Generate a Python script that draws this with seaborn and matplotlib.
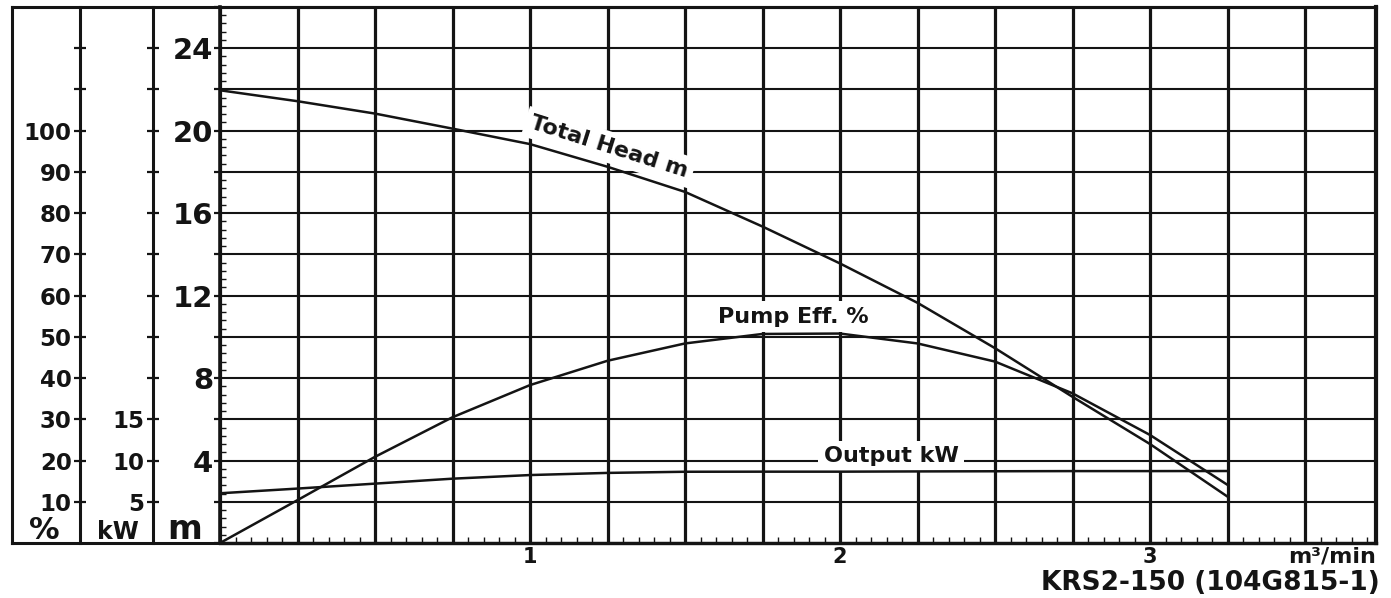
import numpy as np
import pandas as pd
import matplotlib
matplotlib.use("Agg")
import matplotlib.pyplot as plt
from matplotlib.ticker import MultipleLocator, FixedLocator, FuncFormatter
import seaborn as sns

# Performance curves of the KRS2-150 pump versus flow rate (m³/min)
flow = [0.0, 0.25, 0.5, 0.75, 1.0, 1.25, 1.5, 1.75, 2.0, 2.25, 2.5, 2.75, 3.0, 3.25]
total_head_m = [21.96, 21.43, 20.83, 20.10, 19.35, 18.25, 17.03, 15.35, 13.56,
                11.65, 9.45, 7.09, 4.80, 2.25]
pump_eff_pct = [0.0, 10.4, 20.9, 30.5, 38.3, 44.2, 48.4, 50.7, 50.8, 48.4,
                44.0, 36.3, 26.2, 14.1]
output_kw = [6.03, 6.60, 7.20, 7.80, 8.24, 8.50, 8.64, 8.65, 8.65, 8.68,
             8.70, 8.72, 8.72, 8.73]

# Axis labelling
flow_labels = [1, 2, 3]
head_labels = [4, 8, 12, 16, 20, 24]
pct_labels = [10, 20, 30, 40, 50, 60, 70, 80, 90, 100]
kw_labels = [5, 10, 15]

# Secondary scales expressed against the head scale (metres)
PCT_PER_M = 5.0
KW_PER_M = 2.5

sns.set_theme(style="white")
plt.rcParams.update({
    "font.family": ["DejaVu Sans"],
    "font.weight": "bold",
    "axes.axisbelow": True,
})

INK = "#141414"
W, H = 1391, 598


def fx(px):
    return px / W


def fy(py):
    return 1 - py / H


fig = plt.figure(figsize=(W / 100, H / 100), dpi=100)

# Outer frame enclosing the scale columns and the grid
frame = fig.add_axes([fx(12), fy(543), fx(1376) - fx(12), fy(7) - fy(543)])
frame.set_xticks([])
frame.set_yticks([])
frame.set_facecolor("white")
for s in frame.spines.values():
    s.set_visible(True)
    s.set_linewidth(2.2)
    s.set_color(INK)

ax = fig.add_axes([fx(220), fy(543), fx(1376) - fx(220), fy(7) - fy(543)])
ax.patch.set_alpha(0)

df = pd.DataFrame({
    "flow": flow,
    "head": total_head_m,
    "eff": np.asarray(pump_eff_pct) / PCT_PER_M,
    "out": np.asarray(output_kw) / KW_PER_M,
})
for col in ["head", "eff", "out"]:
    sns.lineplot(data=df, x="flow", y=col, ax=ax, color=INK,
                 linewidth=1.8, zorder=3)

ax.set_xlim(0, 3.729)
ax.set_ylim(0, 26)
ax.set_xlabel("")
ax.set_ylabel("")

# Flow axis: grid every 0.25, fine ticks every 0.05
ax.xaxis.set_major_locator(MultipleLocator(0.25))
ax.xaxis.set_major_formatter(FuncFormatter(
    lambda v, p: f"{v:.0f}" if any(abs(v - t) < 1e-6 for t in flow_labels) else ""))
ax.xaxis.set_minor_locator(MultipleLocator(0.05))
ax.tick_params(axis="x", which="major", bottom=True, length=0, pad=3,
               labelsize=15, labelcolor=INK)
ax.tick_params(axis="x", which="minor", bottom=True, direction="in",
               length=4, width=1.0, color=INK)

# Head axis: grid every 2 m, fine ticks every 0.4 m
ax.yaxis.set_major_locator(MultipleLocator(2))
ax.yaxis.set_major_formatter(FuncFormatter(
    lambda v, p: f"{v:.0f}" if any(abs(v - t) < 1e-6 for t in head_labels) else ""))
ax.yaxis.set_minor_locator(MultipleLocator(0.4))
ax.tick_params(axis="y", which="major", left=True, direction="out", length=4,
               width=1.6, pad=1, labelsize=21, color=INK, labelcolor=INK)
ax.tick_params(axis="y", which="minor", left=True, direction="in", length=4,
               width=1.0, color=INK)

ax.grid(True, which="major", axis="x", color=INK, linewidth=2.3)
ax.grid(True, which="major", axis="y", color=INK, linewidth=1.5)

for name, lw in [("left", 2.6), ("bottom", 2.4), ("top", 2.2), ("right", 3.0)]:
    ax.spines[name].set_visible(True)
    ax.spines[name].set_linewidth(lw)
    ax.spines[name].set_color(INK)

# Efficiency (%) and output (kW) scales
sec_pct = ax.secondary_yaxis((80 - 220) / 1156,
                             functions=(lambda m: m * PCT_PER_M,
                                        lambda p: p / PCT_PER_M))
sec_pct.yaxis.set_major_locator(FixedLocator(np.arange(10, 130, 10)))
sec_pct.yaxis.set_major_formatter(FuncFormatter(
    lambda v, p: f"{v:.0f}" if int(round(v)) in pct_labels else ""))

sec_kw = ax.secondary_yaxis((153 - 220) / 1156,
                            functions=(lambda m: m * KW_PER_M,
                                       lambda k: k / KW_PER_M))
sec_kw.yaxis.set_major_locator(FixedLocator(np.arange(5, 65, 5)))
sec_kw.yaxis.set_major_formatter(FuncFormatter(
    lambda v, p: f"{v:.0f}" if int(round(v)) in kw_labels else ""))

for sec in (sec_pct, sec_kw):
    sec.tick_params(axis="y", left=True, direction="inout", length=8,
                    width=1.6, pad=2, labelsize=16.5, color=INK, labelcolor=INK)
    sec.spines["left"].set_linewidth(2.2)
    sec.spines["left"].set_color(INK)

# Curve names
box = dict(boxstyle="square,pad=0.25", fc="white", ec="none")
ax.text(1.255, 19.2, "Total Head m", rotation=-17.5, rotation_mode="anchor",
        ha="center", va="center", fontsize=16, color=INK, bbox=box, zorder=2)
ax.text(1.85, 10.97, "Pump Eff. %", ha="center", va="center", fontsize=16,
        color=INK, bbox=box, zorder=2)
ax.text(2.165, 4.2, "Output kW", ha="center", va="center", fontsize=16,
        color=INK, bbox=box, zorder=2)

# Units under the scale columns, flow unit and model designation
fig.text(fx(44), fy(539), "%", ha="center", va="baseline", fontsize=22, color=INK)
fig.text(fx(118), fy(539), "kW", ha="center", va="baseline", fontsize=17, color=INK)
fig.text(fx(185), fy(539), "m", ha="center", va="baseline", fontsize=24, color=INK)
fig.text(fx(1376), fy(557), "m³/min", ha="right", va="center", fontsize=16, color=INK)
fig.text(fx(1380), fy(583), "KRS2-150 (104G815-1)", ha="right", va="center",
         fontsize=19, color=INK)

fig.savefig("out.png", dpi=100)
